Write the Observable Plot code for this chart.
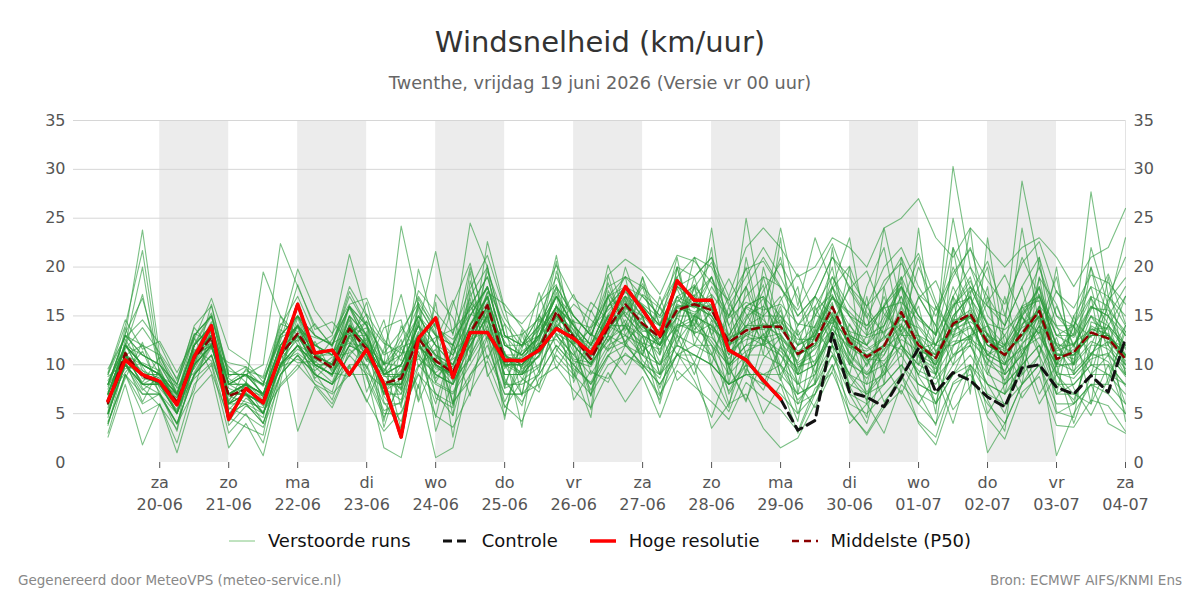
<!DOCTYPE html>
<html><head><meta charset="utf-8">
<script src="https://cdn.jsdelivr.net/npm/d3@7"></script>
<script src="https://cdn.jsdelivr.net/npm/@observablehq/plot@0.6"></script>
<style>
body{margin:0;background:#fff;font-family:"DejaVu Sans",sans-serif;}
#wrap{position:relative;width:1200px;height:600px;overflow:hidden;}
#title{position:absolute;top:25px;left:0;width:1200px;text-align:center;font-size:29px;color:#333;}
#sub{position:absolute;top:73px;left:0;width:1200px;text-align:center;font-size:17.7px;color:#666;}
#chart{position:absolute;top:100px;left:0;}
#legend{position:absolute;top:530px;left:0;width:1200px;display:flex;justify-content:center;align-items:center;font-size:18px;color:#111;}
#legend .it{display:flex;align-items:center;margin:0 16px;}
#legend svg{margin-right:13px;}
#fl{position:absolute;top:572px;left:18px;font-size:13.5px;color:#888;}
#fr{position:absolute;top:572px;right:18px;font-size:13.5px;color:#888;}
</style></head><body>
<div id="wrap">
<div id="title">Windsnelheid (km/uur)</div>
<div id="sub">Twenthe, vrijdag 19 juni 2026 (Versie vr 00 uur)</div>
<div id="chart"></div>
<div id="legend">
 <div class="it"><svg width="26" height="10"><line x1="0" y1="5" x2="26" y2="5" stroke="#2ca02c" stroke-opacity="0.6" stroke-width="1"/></svg>Verstoorde runs</div>
 <div class="it"><svg width="26" height="10"><line x1="0" y1="5" x2="26" y2="5" stroke="#111" stroke-width="3" stroke-dasharray="9,5"/></svg>Controle</div>
 <div class="it"><svg width="26" height="10"><line x1="0" y1="5" x2="26" y2="5" stroke="#ff0000" stroke-width="3.5"/></svg>Hoge resolutie</div>
 <div class="it"><svg width="26" height="10"><line x1="0" y1="5" x2="26" y2="5" stroke="#8b0000" stroke-width="2.5" stroke-dasharray="7,5"/></svg>Middelste (P50)</div>
</div>
<div id="fl">Gegenereerd door MeteoVPS (meteo-service.nl)</div>
<div id="fr">Bron: ECMWF AIFS/KNMI Ens</div>
</div>
<script>
const startTime = "2026-06-19T06:00:00Z";
const stepHours = 6;
const dayLabels = ["za","zo","ma","di","wo","do","vr","za","zo","ma","di","wo","do","vr","za"];
const dateLabels = ["20-06","21-06","22-06","23-06","24-06","25-06","26-06","27-06","28-06","29-06","30-06","01-07","02-07","03-07","04-07"];
const tickDates = ["2026-06-20","2026-06-21","2026-06-22","2026-06-23","2026-06-24","2026-06-25","2026-06-26","2026-06-27","2026-06-28","2026-06-29","2026-06-30","2026-07-01","2026-07-02","2026-07-03","2026-07-04"];
const bandStarts = ["2026-06-20","2026-06-22","2026-06-24","2026-06-26","2026-06-28","2026-06-30","2026-07-02"];
const yTicks = [0,5,10,15,20,25,30,35];

const hres = [6.3,10.5,9.0,8.3,5.9,10.8,14.0,4.4,7.6,6.1, 11.0,16.2,11.2,11.5,9.0,11.6,8.0,2.6,12.7,14.8,
  8.7,13.3,13.3,10.5,10.4,11.5,13.7,12.7,11.2,14.2, 18.0,15.6,13.0,18.6,16.6,16.6,11.5,10.5,8.4,6.5];
const control = [6.3,10.5,9.0,8.3,5.9,10.8,14.0,4.4,7.6,6.1, 11.0,16.2,11.2,11.5,9.0,11.6,8.0,2.6,12.7,14.8,
  8.7,13.3,13.3,10.5,10.4,11.5,13.7,12.7,11.2,14.2, 18.0,15.6,13.0,18.6,16.6,16.6,11.5,10.5,8.4,6.5,
  3.3,4.3,13.2,7.2,6.7,5.7,8.7,11.7,7.2,9.2, 8.4,6.7,5.7,9.7,10.0,7.7,7.0,8.9,7.2,12.7];
const median = [6.1,11.2,8.8,8.3,6.2,10.7,12.8,6.8,7.5,6.2, 11.0,13.2,10.8,9.7,13.7,11.6,8.1,8.6,12.7,10.4,
  9.2,13.3,16.1,10.4,10.4,11.6,15.4,12.8,10.6,13.8, 16.2,14.2,12.8,15.6,16.2,15.6,12.3,13.5,13.9,13.9,
  11.1,12.3,15.9,12.3,10.8,11.9,15.4,12.0,10.7,14.2, 15.2,12.3,11.0,13.2,15.5,10.6,11.3,13.3,12.7,10.6];

const members = [
 [7,12,10,9,5,12,14,6,8,5,12,14,10,9,15, 13,7,10,14,9,8,14,17,11,9,13,16,12,10,15, 12.4,9.6,6.8,11.2,8.4,4.6,9.8,6.2,12.6,8.4,13.6,9.2,14.8,7.6,10.2, 13,17,11,9,15,17,11,10,14,18,10,12,15,12,10],
 [5,10,8,7,4,9,12,5,7,4,10,12,9,8,12, 14.5,4.2,11.8,7.6,16.4,5.8,18.6,12.4,6.2,9.8,14.6,10.4,8.6,13.2,11.4, 14,12,10,14,15,17,10,12,13,15,9,10,14,13,12, 10,13,13,12,12,13,14,9,11,14,12,9,11,14,12],
 [8,13,23.8,11,7,13,15,8,9,7,13,15,12,11,16, 14,9,11,15,12,10,15,18,12,11,14,17,14,12,16, 18,16,14,18,17,19,13,16,15,17,12,14,17,15,13, 14,18,15,12,16,19,13,12,15,17,13,12,16,15,11],
 [3,9,5,6,2,8,10,3,5,2,9,11,8,6,10, 6.2,10.4,3.4,12.8,4.6,12.2,6.8,15.6,4.4,13.2,7.6,16.2,6.4,9.4,8.2, 12,10,8,11,12,11,8,10,9,10,7,8,12,9,7, 9,11,8,7,10,12,8,7,10,12,7,8,10,9,8],
 [9,14,21.7,10,8,14,16,9,9,8,14,17,13,12,18, 15,10,13,17,14,12,17,20,13,12,15,19,15,13,18, 19,17,15,19,21,20,16,19,22,19,15,17,21,18,16, 20,22,18,15,19,22,16,14,18,21,15,14,18,17,15],
 [6,11,12,9,6,10,13,7,7,6,11,13,11,10,13, 15.2,12.4,5.6,16.8,13.2,4.8,17.6,10.6,14.2,6.8,16.4,18.2,8.8,15.6,12.4, 16,15,13,16,15,14,12,13,14,13,11,12,15,12,11, 11,15,12,11,14,15,12,11,13,16,11,11,13,13,11],
 [7,11,9,8,6,11,12,7,8,7,12,13,12,11,14, 9.6,13.8,14.6,6.4,17.2,14.8,10.4,20.2,7.6,13.6,9.2,19.6,14.2,6.8,17.6, 14.2,10.4,8.6,13.6,10.2,7.8,5.2,9.6,7.4,11.8,9.4,13.6,11.2,8.8,6.4, 12,14,12,10,14,15,12,11,13,15,11,11,14,13,10],
 [6,12,9,8,7,12,14,8,7,6,15,12,11,10,16, 12,7,14,11,6,12,20,14,8,12,15,13,11,14,17, 12,15,9,20,14,22,8,18,11,23,7,16,12,20,6, 18,9,24,11,17,7,23,12,8,19,10,14,6,17,21],
 [5,11,8,9,6,11,12,6,8,7,10,14,10,9,13, 13,9,7,15,12,6,16,13,10,7,14,17,10,12,16, 19,11,17,12,18,10,16,9,20,14,18,8,22,10,17, 8,21,13,5,22,12,18,7,15,11,20,9,17,8,14],
 [4,9,7,7,5,9,11,6,6,5,9,12,9,8,11, 12.8,3.6,9.2,14.6,3.2,8.4,19.6,8.8,11.4,3.6,15.2,9.6,12.6,5.4,19.2, 13,11,10,13,12,12,9,11,11,10,8,9,12,9,8, 9,12,9,8,11,12,9,8,10,12,8,8,10,10,8],
 [7,12,10,9,7,12,15,8,8,7,12,15,12,11,16, 13,10,11,15,12,11,15,18,12,12,13,17,15,13,17, 18,17,15,18,19,21,14,17,19,18,14,16,19,16,14, 16,19,15,13,17,20,15,13,16,20,14,14,17,16,13],
 [6,10,8,8,5,10,12,6,7,5,10,12,10,9,12, 11,7,7,11,9,8,11,14,9,9,10,13,11,9,12, 13,12,10,12,11,10,8,9,8,7,5,7,10,6,5, 7,9,6,4,8,9,6,4,8,10,5,6,8,7,5],
 [8,12,11,10,7,11,14,8,9,7,11,15,11,10,15, 7.2,11.6,17.2,9.8,12.4,16.6,11.2,22.6,15.8,9.2,13.6,21.2,12.2,16.4,14.6, 17,14,12,17,16,16,11,14,15,15,12,13,17,13,12, 14,17,13,11,15,17,13,11,14,17,12,12,15,14,12],
 [6,11,9,8,6,10,12,7,8,19.5,15,13,10,10,14, 12,8,8,13,10,9,13,16,10,10,12,15,13,11,14, 18,12,16,13,19,13,17,11,15,10,14,17,13,9,16, 13,11,17,14,10,16,9,14,18,11,16,12,9,15,12],
 [7,12,10,9,6,11,13,8,9,10,22.4,18,14,12,16, 13,9,10,14,11,10,14,17,11,11,13,16,14,12,15, 15,18,12,17,14,18,15,20,12,16,9,13,19,15,12, 17,12,10,16,13,18,14,9,16,13,10,15,18,11,14],
 [8,13,11,10,7,12,14,8,8,7,12,14,12,13,21.3, 15,10,24.2,16,13,11,15,18,12,11,13,17,14,12,16, 17,16,13,18,17,15,12,15,16,14,12,13,17,14,12, 15,18,14,12,16,18,14,12,15,18,13,13,16,15,13],
 [5,10,7,7,4,9,11,5,6,4,9,11,9,8,11, 9,1.5,0.5,8,0.5,1.5,9,12,7,7,9,12,10,8,11, 12,11,9,12,11,10,8,9,9,8,6,7,11,7,6, 8,10,7,6,9,10,7,6,8,10,6,6,8,8,6],
 [6,11,9,9,6,11,13,7,7,6,11,13,11,10,14, 12,9,10,14,21.6,13,24.5,20,13,11,13,16,13,11,15, 16,14,12,16,16,15,12,14,14,14,11,12,15,12,11, 12,15,12,10,14,15,12,11,13,15,11,11,13,13,11],
 [5,10,8,8,5,10,12,6,7,5,10,12,10,9,13, 11,8,8,12,10,8,12,15,9,9,11,14,12,10,13, 20,15,9,14,21,17,10,12,19,13,6,9,14,18,15, 9,14,20,16,11,13,17,8,10,21,9,6,12,16,10],
 [7,11,10,9,7,11,13,7,8,7,11,14,11,11,14, 12,9,9,13,11,9,13,17,11,10,12,16,13,11,14, 13,16,14,11,15,19,14,10,16,21,13,10,18,13,8, 14,19,10,12,18,14,11,13,9,16,14,10,20,12,17],
 [9,13,12,11,8,13,15,9,9,8,13,15,13,12,17, 14,10,12,16,13,12,16,19,13,12,14,18,15,13,17, 12,19,14,21,12,16,9,21,13,11,8,15,20,11,18, 22,13,16,9,14,24,10,17,11,14,7,15,10,19,9],
 [4,9,6,7,4,9,11,5,6,4,9,11,9,8,10, 10,6,6,10,8,7,10,13,8,8,9,12,10,8,11, 9,13,7,10,15,12,6,11,8,12,5,10,13,7,4, 10,7,11,6,9,13,5,8,12,7,10,4,9,11,6],
 [6,12,20,9,6,11,13,7,8,6,11,13,11,10,14, 12,8,9,13,10,9,13,16,10,10,12,15,13,11,14, 14,11,16,19,13,11,15,18,14,9,12,17,15,10,13, 16,12,9,13,20,16,13,10,15,12,9,14,11,14,17],
 [8,12,10,9,7,12,14,8,9,7,12,14,11,10,15, 10.4,14.6,7.4,19.8,13.6,2.6,13.2,17.4,16.2,13.8,11.2,14.4,17.2,13.2,11.6, 17,13,12,15,18,13,10,16,17,12,9,14,18,13,10, 12,16,13,9,17,14,11,12,16,17,12,10,15,13,11],
 [5,11,8,8,5,10,12,6,7,5,10,12,10,9,12, 16.4,9.2,12.6,6.2,10.4,16.2,20.4,13.2,5.6,8.4,12.6,20.6,8.2,12.4,20.2, 15,13,11,15,15,14,11,13,12,13,10,11,15,11,9, 11,14,11,10,13,14,11,10,12,15,10,10,12,12,9],
 [7,12,10,9,6,12,14,7,8,6,11,14,11,10,14, 13,9,10,13,11,10,14,17,11,10,12,16,14,11,15, 17,15,14,18,16,19,15,18,21,18,15,17,21,19,16, 18,21,17,14,22,18,16,15,21,17,13,14,20,15,18],
 [6,10,9,8,6,10,12,6,7,6,10,13,10,10,13, 13.8,6.2,3.4,16.4,8.2,11.4,16.8,9.2,4.8,11.6,17.4,11.6,9.4,4.6,17.2, 15,13,12,14,14,12,10,12,12,11,9,10,13,10,9, 10,12,10,9,12,13,10,9,11,14,9,9,11,11,9],
 [8,13,11,10,8,13,15,9,9,8,13,15,13,12,16, 14,11,12,15,13,12,16,19,13,12,14,18,15,13,17, 19,18,16,20,19,21,17,22,24,22,19,20,23,22,20, 24,25,27,23,21,24,22,20,22,23,21,18,21,22,26],
 [7,12,10,9,7,12,14,7,8,7,12,14,12,11,15, 13,9,10,14,12,10,14,18,12,11,13,17,14,12,16, 18,16,14,17,18,16,13,16,17,15,13,15,18,15,14, 16,18,15,13,30.3,20,17,14,28.8,20,15,13,27.7,17,14],
 [5,10,8,8,5,10,12,6,7,5,10,12,10,9,12, 11,8,8,12,9,8,12,15,9,9,11,14,12,10,13, 10,12,6,13,9,14,7,10,5,8,3,7,12,5,3, 6,9,4,1.8,7,10,1,4,8,11,0.7,5,8,4,3],
 [6,11,9,8,6,11,13,7,7,6,11,13,10,9,13, 12,8,8,12,10,9,12,15,10,9,11,14,12,10,13, 12,10,9,11,10,3.5,6,7,3.5,1.5,2.5,6,10,4,6, 3,8,6,9,4,10,8,5,11,6,9,7,6,10,5],
 [6,11,9,9,6,11,13,7,8,6,11,13,11,10,14, 12,8,9,13,10,9,13,16,10,10,12,15,13,11,14, 14,19,11,20,13,24,12,25,15,24,16,23,18,23,13, 24,16,21,13,25,16,20,11,24,14,19,10,22,16,23],
 [2.6,8,1.8,6,1,7,9,1.5,4,0.7,8,10,8,7,9, 9,5,5,9,7,6,9,11,7,7,8,11,9,7,10, 11,10,8,11,11,10,8,9,9,9,7,8,11,8,7, 8,10,8,7,9,11,8,7,9,11,7,7,9,9,7],
 [6,11,9,8,6,11,13,7,8,6,11,13,11,10,14, 12,9,9,13,10,9,13,16,10,10,12,15,13,11,14, 16,14,12,16,16,15,12,14,14,14,11,12,16,12,11, 12,15,12,11,14,15,12,11,13,16,11,11,13,13,11],
 [7.5,13.2,16.8,10.4,7.2,12.1,15.3,9.4,8.8,7.9,13.6,12.4,14.2,11.8,17.5, 14.1,11.2,13.5,16.3,13.8,12.6,15.2,14.4,12.8,13.1,14.7,13.2,12.1,13.6,18.4, 13.5,17.2,15.8,13.4,17.9,20.5,16.3,13.8,17.6,20.4,16.9,12.7,17.8,20.1,15.3, 13.2,18.7,21.4,16.5,12.8,17.3,20.6,15.1,12.4,18.9,16.2,11.8,15.6,19.3,14.2],
 [4.2,8.6,12.3,6.8,3.9,7.4,13.8,5.6,4.8,3.6,8.2,16.4,9.2,6.4,11.6, 9.8,5.3,6.2,11.4,7.1,4.8,11.2,17.5,8.3,6.2,9.4,14.6,11.3,7.4,10.8, 14.2,12.8,7.6,12.4,14.8,11.2,7.3,10.6,13.2,9.8,6.4,8.2,13.8,10.6,7.2, 9.4,13.6,8.8,6.1,11.8,15.4,9.6,5.8,10.4,14.6,8.2,6.4,11.2,10.3,7.8],
 [9.6,12.8,14.6,12.1,8.4,13.8,11.6,10.2,9.8,8.6,12.4,18.2,13.6,14.4,12.3, 10.6,9.4,11.8,12.6,14.2,11.5,12.8,19.6,14.8,12.3,11.4,13.8,16.2,14.6,13.1, 15.6,18.3,14.2,17.8,13.6,15.4,18.8,15.2,12.4,16.6,19.3,15.1,14.2,17.8,19.6, 15.2,13.4,16.8,18.6,14.3,12.6,16.4,19.2,14.8,13.2,17.6,14.4,12.8,16.6,18.9],
 [3.8,10.4,6.2,9.6,5.8,8.6,10.2,4.2,6.6,5.2,7.8,9.6,12.4,9.2,8.8, 13.4,6.8,4.2,9.8,11.6,6.2,8.4,12.8,11.2,8.6,7.2,11.4,14.6,9.2,8.6, 11.2,9.6,13.8,8.4,10.2,14.6,9.8,6.4,10.6,12.8,8.2,5.6,9.4,14.2,10.8, 6.2,8.4,12.6,9.8,5.4,7.8,13.2,10.4,6.6,9.2,12.8,7.6,4.8,8.6,13.4],
 [8.4,11.8,17.2,9.2,6.8,9.8,16.2,8.6,7.4,6.8,9.4,14.8,10.2,12.6,15.8, 12.2,7.8,9.4,13.2,8.6,10.8,16.4,14.6,9.6,11.4,12.6,17.8,13.4,11.6,15.2, 17.6,14.8,11.2,16.4,18.2,15.6,11.8,14.6,16.8,12.2,10.4,15.6,17.2,13.4,9.8, 14.6,17.8,12.4,10.2,15.8,18.6,14.2,10.6,15.4,17.8,11.6,13.2,16.8,14.2,9.2],
 [6.6,9.2,11.4,7.6,5.4,11.6,10.4,6.2,9.6,7.8,10.2,11.2,9.8,8.2,12.8, 10.4,9.6,7.4,11.8,10.6,8.4,10.6,13.6,9.8,10.8,12.2,12.6,10.4,9.8,12.6, 13.8,12.2,11.6,14.2,13.4,12.8,10.6,13.2,12.6,11.4,9.6,11.8,14.4,11.2,9.2, 11.6,13.2,10.8,9.6,12.8,13.8,10.6,9.4,12.2,13.6,9.8,10.2,12.4,11.6,9.6],
 [5.2,12.6,9.8,7.2,3.2,10.4,13.6,3.8,5.8,4.6,12.8,13.8,8.6,10.4,14.6, 8.6,4.6,8.2,15.8,6.6,5.6,14.2,16.8,8.6,5.8,12.4,17.4,11.6,6.8,14.6, 16.8,9.8,6.4,15.2,17.2,9.4,5.6,14.8,18.2,8.6,4.2,13.6,16.4,7.8,4.6, 16.2,18.4,7.2,3.8,14.6,17.6,6.4,3.2,15.8,16.6,5.2,4.6,14.4,13.6,4.2],
 [7.8,10.8,8.2,10.8,7.6,9.2,12.2,9.8,8.2,6.4,9.8,11.6,10.6,11.4,12.2, 11.8,10.2,9.8,10.6,9.2,10.6,11.8,15.2,12.4,9.6,10.8,14.2,12.8,12.2,13.8, 15.4,13.6,12.6,15.8,15.2,13.6,12.4,15.8,14.6,12.6,11.2,13.4,15.2,12.8,11.6, 12.8,14.2,11.6,12.2,13.4,14.8,12.6,11.8,14.2,15.4,12.2,11.2,13.8,12.6,11.8],
 [9.2,14.6,11.6,12.4,9.2,12.6,16.8,11.6,10.4,8.2,13.2,19.8,15.6,13.2,16.2, 16.8,12.6,10.4,17.6,15.4,13.2,17.8,21.2,15.6,14.2,16.4,20.2,16.8,15.4,19.2, 20.8,19.6,17.2,21.2,20.6,18.4,16.6,19.8,20.6,17.8,15.6,18.8,22.4,17.6,14.8, 18.6,20.4,17.2,15.6,19.4,21.8,18.6,16.2,20.4,22.6,17.4,15.8,19.2,18.4,16.2],
 [6.8,9.6,10.2,9.4,6.2,8.8,11.8,6.8,6.2,5.6,9.8,10.6,9.4,10.8,11.2, 12.6,7.2,8.6,12.2,9.6,9.2,12.6,13.4,10.2,9.2,11.8,13.8,10.6,10.2,12.4, 14.6,11.4,12.8,14.8,13.2,14.2,11.4,12.6,12.8,13.2,10.2,11.6,13.6,11.8,10.6, 10.4,12.6,11.4,10.8,12.4,12.6,11.4,10.2,11.6,12.8,10.2,9.4,11.2,12.4,10.4],
 [4.6,11.4,7.6,5.8,3.4,12.8,9.2,4.6,3.6,2.8,11.8,3.2,7.8,5.6,9.8, 6.4,3.2,5.2,9.2,4.8,3.6,7.2,10.4,5.8,4.2,8.6,9.8,7.4,5.6,9.2, 6.2,8.8,4.6,9.4,7.8,6.2,4.4,8.2,6.6,5.4,3.2,7.6,9.2,5.2,2.8, 5.6,7.4,4.2,2.6,8.2,9.6,4.6,2.4,7.2,8.8,3.8,3.6,6.4,5.8,3.2],
 [7.2,11.6,13.8,11.2,8.6,13.2,12.4,8.2,9.4,8.8,14.2,13.4,12.8,12.2,13.2, 14.4,12.2,11.2,11.6,12.8,13.6,15.6,17.8,14.2,11.8,13.6,15.8,14.4,13.8,15.6, 17.4,16.2,14.8,16.6,15.8,17.2,14.8,16.4,15.6,16.2,14.2,13.8,16.8,15.4,13.6, 15.8,16.4,14.6,13.2,16.2,16.8,14.2,13.6,15.2,17.2,13.8,12.8,15.8,15.6,13.4],
 [5.6,13.8,9.4,7.8,6.6,11.2,14.4,5.4,7.2,5.8,10.6,12.6,8.4,7.2,13.4, 9.2,7.6,6.4,12.4,8.2,7.2,10.8,14.8,7.6,8.4,9.8,13.2,9.6,8.2,11.6, 12.4,14.2,10.2,13.8,14.6,12.4,9.8,11.4,12.2,15.6,9.8,10.4,13.2,10.4,8.6, 12.2,11.6,9.4,8.6,10.8,12.4,10.6,8.4,11.4,13.4,9.2,8.6,10.6,11.2,8.8],
 [8.8,10.2,7.4,8.8,7.8,9.6,12.6,8.8,9.8,6.6,11.4,10.2,10.4,8.8,14.2, 10.8,8.4,7.6,14.4,9.8,8.8,12.4,15.8,10.8,10.6,12.8,15.2,13.6,11.2,13.4, 16.4,13.4,13.6,15.2,16.8,14.6,12.8,13.6,13.8,14.4,12.6,12.6,14.6,13.4,12.8, 13.4,14.6,13.8,11.4,13.6,14.4,13.2,11.6,13.8,14.8,11.4,12.2,13.6,13.8,11.6],
 [6.2,12.2,8.6,8.2,5.2,10.2,13.4,7.6,6.8,6.4,11.2,14.2,11.4,9.4,13.8, 11.2,8.8,8.8,12.8,10.2,9.8,13.6,16.4,10.6,9.8,11.6,15.6,12.4,10.8,13.6, 15.8,14.6,12.2,15.4,16.4,15.8,12.2,13.2,14.2,13.6,11.4,12.2,15.4,12.6,10.4, 11.4,15.8,12.4,10.6,14.4,15.6,12.6,10.8,13.4,15.8,10.4,11.6,13.2,12.8,10.8],
 [7.2,10.8,9.4,8.6,6.6,11.4,12.2,6.4,8.2,6.8,11.6,12.8,10.6,9.6,13.6, 11.8,7.6,9.2,13.4,10.8,9.6,12.6,15.6,10.2,10.6,11.2,14.8,13.2,10.2,14.2, 16.6,13.8,13.2,16.2,15.4,16.2,12.6,13.8,13.6,14.6,10.8,12.8,16.2,11.8,11.4, 12.6,15.2,11.6,10.4,14.6,14.8,12.4,11.4,12.6,15.6,11.2,10.6,13.6,13.2,10.8]
];

const t0 = new Date(startTime).getTime();
const timeAt = i => new Date(t0 + i * stepHours * 3600e3);
const ens = members.flatMap((vals, m) => vals.map((v, i) => ({t: timeAt(i), v, m})));
const toRows = arr => arr.map((v, i) => ({t: timeAt(i), v}));
const ticks = tickDates.map(d => new Date(d + "T00:00:00Z"));
const labelOf = new Map(ticks.map((d, i) => [+d, dayLabels[i] + "\n" + dateLabels[i]]));
const bands = bandStarts.map(d => ({a: new Date(d + "T00:00:00Z"), b: new Date(new Date(d + "T00:00:00Z").getTime() + 86400e3)}));

const plot = Plot.plot({
  width: 1200, height: 430,
  marginTop: 20, marginBottom: 68, marginLeft: 73, marginRight: 75,
  style: {fontFamily: "DejaVu Sans", fontSize: "16px", color: "#555", background: "transparent"},
  x: {type: "utc", domain: [new Date("2026-06-18T18:00:00Z"), new Date("2026-07-04T00:00:00Z")], label: null},
  y: {domain: [0, 35], ticks: yTicks, axis: "both", tickSize: 0, tickPadding: 8, label: null},
  marks: [
    Plot.rect(bands, {x1: "a", x2: "b", fill: "#ececec"}),
    Plot.ruleY(yTicks.filter(v => v > 0), {stroke: "#d6d6d6", strokeWidth: 1}),
    Plot.ruleX([new Date("2026-07-04T00:00:00Z")], {stroke: "#e3e3e3"}),
    Plot.lineY(ens, {x: "t", y: "v", z: "m", stroke: "#2a9a3a", strokeOpacity: 0.62, strokeWidth: 1.1}),
    Plot.lineY(toRows(median), {x: "t", y: "v", stroke: "#8b0000", strokeWidth: 2.5, strokeDasharray: "7,5"}),
    Plot.lineY(toRows(control), {x: "t", y: "v", stroke: "#111", strokeWidth: 3, strokeDasharray: "9,6"}),
    Plot.lineY(toRows(hres), {x: "t", y: "v", stroke: "#ff0000", strokeWidth: 3.5}),
    Plot.axisX({ticks: ticks, tickFormat: d => labelOf.get(+d), tickSize: 6, tickPadding: 4, lineHeight: 1.375, label: null, stroke: "#555"})
  ]
});
document.getElementById("chart").appendChild(plot);
</script>
</body></html>
